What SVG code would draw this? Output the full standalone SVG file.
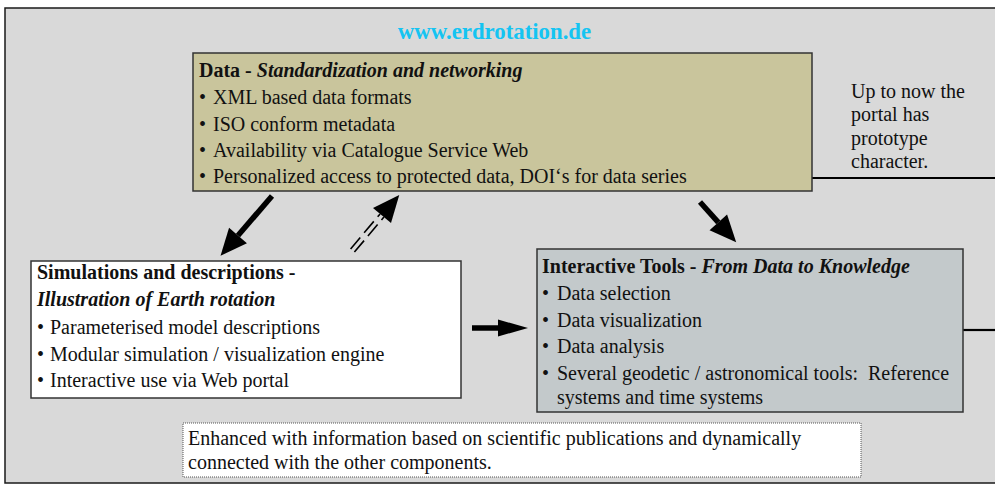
<svg xmlns="http://www.w3.org/2000/svg" width="995" height="489" viewBox="0 0 995 489">
<style>
text{font-family:"Liberation Serif","Times New Roman",serif;font-size:20px;fill:#111}
.b{font-weight:bold}
.bi{font-weight:bold;font-style:italic}
.url{font-weight:bold;font-size:22.8px;fill:#14c4f2}
.box{stroke:#333;stroke-width:1.5}
.shaft{stroke:#000;stroke-width:5.5;fill:none}
.dbl{stroke:#000;stroke-width:1.6;fill:none;stroke-dasharray:15 6}
.rule{stroke:#000;stroke-width:2.2}
</style>
<defs>
<marker id="head" markerUnits="userSpaceOnUse" markerWidth="30" markerHeight="30" refX="0" refY="0" orient="auto" overflow="visible" viewBox="-1 -12 28 24">
<path d="M0,-11 L25,0 L0,11 z" fill="#000"/>
</marker>
<marker id="headH" markerUnits="userSpaceOnUse" markerWidth="32" markerHeight="20" refX="0" refY="0" orient="auto" overflow="visible" viewBox="-1 -10 32 20">
<path d="M0,-8.5 L30,0 L0,8.5 z" fill="#000"/>
</marker>
</defs>

<g id="frame">
<rect x="5" y="8" width="995" height="475" fill="#d9d9d9" stroke="#1a1a1a" stroke-width="1.5"/>
<text class="url" x="494.5" y="39" text-anchor="middle">www.erdrotation.de</text>
</g>

<g id="connectors">
<line class="rule" x1="812" y1="178" x2="995" y2="178"/>
<line class="rule" x1="963" y1="330" x2="995" y2="330"/>
<line class="shaft" x1="272" y1="196" x2="238" y2="235.5" marker-end="url(#head)"/>
<line class="dbl" x1="352.5" y1="250.5" x2="382" y2="215.5" marker-end="url(#head)" stroke-opacity="0"/>
<line class="dbl" x1="352.5" y1="250.5" x2="382" y2="215.5" transform="translate(1.9,1.6)"/>
<line class="dbl" x1="352.5" y1="250.5" x2="382" y2="215.5" transform="translate(-1.9,-1.6)"/>
<line class="shaft" x1="700" y1="202" x2="718.3" y2="222.4" marker-end="url(#head)"/>
<line class="shaft" x1="472" y1="328" x2="498" y2="328" marker-end="url(#headH)"/>
</g>

<g id="data">
<rect class="box" x="193" y="53" width="619" height="138" fill="#c9c59c"/>
<text x="199" y="77"><tspan class="b">Data - </tspan><tspan class="bi">Standardization and networking</tspan></text>
<text y="104"><tspan x="199">•</tspan><tspan x="213">XML based data formats</tspan></text>
<text y="131"><tspan x="199">•</tspan><tspan x="213">ISO conform metadata</tspan></text>
<text y="157"><tspan x="199">•</tspan><tspan x="213">Availability via Catalogue Service Web</tspan></text>
<text y="183"><tspan x="199">•</tspan><tspan x="213">Personalized access to protected data, DOI‘s for data series</tspan></text>
</g>

<g id="note-prototype">
<text x="851" y="98">Up to now the</text>
<text x="851" y="121">portal has</text>
<text x="851" y="145">prototype</text>
<text x="851" y="168">character.</text>
</g>

<g id="simulations">
<rect class="box" x="31" y="261" width="430" height="137" fill="#ffffff"/>
<text class="b" x="37" y="279">Simulations and descriptions -</text>
<text class="bi" x="37" y="306">Illustration of Earth rotation</text>
<text y="334"><tspan x="37">•</tspan><tspan x="50">Parameterised model descriptions</tspan></text>
<text y="361"><tspan x="37">•</tspan><tspan x="50">Modular simulation / visualization engine</tspan></text>
<text y="387"><tspan x="37">•</tspan><tspan x="50">Interactive use via Web portal</tspan></text>
</g>

<g id="tools">
<rect class="box" x="537" y="249" width="426" height="163" fill="#c3c9cb"/>
<text x="542" y="273"><tspan class="b">Interactive Tools - </tspan><tspan class="bi">From Data to Knowledge</tspan></text>
<text y="300"><tspan x="542">•</tspan><tspan x="557">Data selection</tspan></text>
<text y="327"><tspan x="542">•</tspan><tspan x="557">Data visualization</tspan></text>
<text y="353"><tspan x="542">•</tspan><tspan x="557">Data analysis</tspan></text>
<text y="380"><tspan x="542">•</tspan><tspan x="557">Several geodetic / astronomical tools:&#160; Reference</tspan></text>
<text x="557" y="404">systems and time systems</text>
</g>

<g id="note-publications">
<rect x="183" y="423" width="678" height="54" fill="#ffffff" stroke="#555" stroke-width="1" stroke-dasharray="1 1"/>
<text x="188" y="445">Enhanced with information based on scientific publications and dynamically</text>
<text x="188" y="469">connected with the other components.</text>
</g>
</svg>
